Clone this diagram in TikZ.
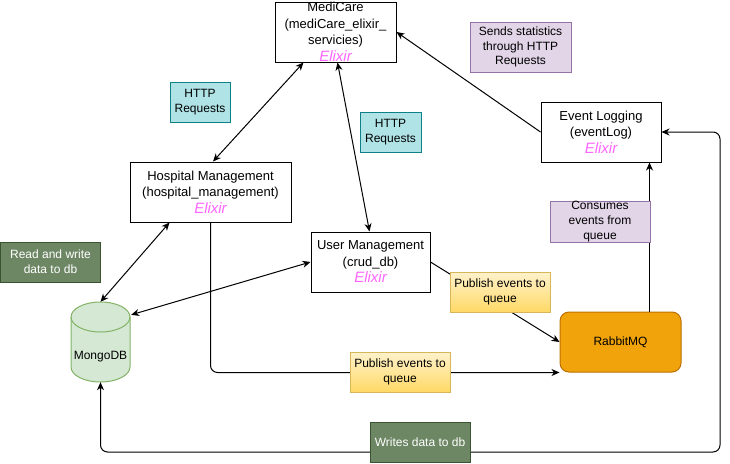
\documentclass[tikz,border=0pt]{standalone}
\usepackage{fontspec}
\setmainfont{Liberation Sans}
\usetikzlibrary{arrows.meta,calc}
\definecolor{elixirpink}{HTML}{FF66FF}
\definecolor{cyanF}{HTML}{B0E3E6}
\definecolor{cyanS}{HTML}{0E8088}
\definecolor{purpF}{HTML}{E1D5E7}
\definecolor{purpS}{HTML}{9673A6}
\definecolor{yelTop}{HTML}{FFF2CC}
\definecolor{yelBot}{HTML}{FFD966}
\definecolor{yelS}{HTML}{D6B656}
\definecolor{grnF}{HTML}{6D8764}
\definecolor{grnS}{HTML}{3A5431}
\definecolor{orgF}{HTML}{F0A30A}
\definecolor{orgS}{HTML}{BD7000}
\definecolor{mongoF}{HTML}{D5E8D4}
\definecolor{mongoS}{HTML}{82B366}
\newcommand{\elx}{{\fontsize{15}{16.5}\selectfont\color{elixirpink}\itshape Elixir}}
\tikzset{
  svc/.style={draw=black, line width=1pt, fill=white, align=center, inner sep=0pt,
    minimum height=60pt, font=\fontsize{13}{16.5}\selectfont},
  lab/.style={line width=1pt, align=center, inner sep=0pt, minimum width=100pt,
    minimum height=40pt, font=\fontsize{12}{15}\selectfont},
  cyanlab/.style={lab, draw=cyanS, fill=cyanF, minimum width=60pt},
  purplab/.style={lab, draw=purpS, fill=purpF},
  yellab/.style={lab, draw=yelS, top color=yelTop, bottom color=yelBot},
  grnlab/.style={lab, draw=grnS, fill=grnF, text=white},
  conn/.style={line width=1pt, draw=black},
  >={Stealth[length=8pt,width=7pt,inset=2.5pt]}
}
\begin{document}
\begin{tikzpicture}[x=1pt,y=-1pt]
\useasboundingbox (0,0) rectangle (730,463);
\fill[white] (0,0) rectangle (730,463);

% MongoDB cylinder
\fill[mongoF] (71,317) -- (71,367) arc[start angle=180,end angle=360,x radius=29.5pt,y radius=15pt]
  -- (130,317) arc[start angle=0,end angle=180,x radius=29.5pt,y radius=15pt] -- cycle;
\draw[mongoS,line width=1pt] (71,317) -- (71,367) arc[start angle=180,end angle=360,x radius=29.5pt,y radius=15pt]
  -- (130,317) arc[start angle=0,end angle=180,x radius=29.5pt,y radius=15pt] -- cycle;
\draw[mongoS,line width=1pt] (71,317) arc[start angle=180,end angle=360,x radius=29.5pt,y radius=15pt];
\node[inner sep=0pt, minimum width=59pt, minimum height=80pt, font=\fontsize{12}{15}\selectfont]
  (mongo) at (100.5,342) {\raisebox{-17pt}[0pt][0pt]{MongoDB}};

% service boxes
\node[svc, minimum width=121pt] (medi) at (335.5,32) {MediCare\\(mediCare\_elixir\_\\servicies)\\\elx};
\node[svc, minimum width=161pt] (hosp) at (210.5,192) {Hospital Management\\(hospital\_management)\\\elx};
\node[svc, minimum width=119pt] (user) at (370.5,262) {User Management\\(crud\_db)\\\elx};
\node[svc, minimum width=120pt] (event) at (601,132) {Event Logging\\(eventLog)\\\elx};
\node[draw=orgS, fill=orgF, line width=1pt, rounded corners=9pt, inner sep=0pt,
  minimum width=121pt, minimum height=60pt, font=\fontsize{12}{15}\selectfont] (rabbit) at (620.5,342) {RabbitMQ};

% loop coordinates
\coordinate (loopBL) at (100.5,452);
\coordinate (loopBR) at (720,452);
\coordinate (loopTR) at (720,132);

% connectors
\draw[conn,<->] ($(hosp.north)+(2.5,0)$) -- ($(medi.south west)+(29,0)$);
\draw[conn,<->] ($(medi.south west)+(63,0)$) -- ($(user.north west)+(59,0)$);
\draw[conn,->] (event.west) -- (medi.east);
\draw[conn,<->] ($(hosp.south west)+(40,0)$) -- (mongo.north);
\draw[conn,<->] (user.west) -- ($(mongo.north east)+(1,13)$);
\draw[conn,->] (user.east) -- (rabbit.west);
\draw[conn,->,rounded corners=7pt] (hosp.south) |- (rabbit.south west);
\draw[conn,->] ($(rabbit.north west)+(90,0)$) -- ($(event.south west)+(109,0)$);
\draw[conn,<->,rounded corners=7pt] (mongo.south) -- (loopBL) -- (loopBR) -- (loopTR) -- (event.east);

% labels
\node[cyanlab] (httpL) at (200,102) {HTTP\\Requests};
\node[cyanlab, minimum width=61pt] (httpM) at (390.5,132) {HTTP\\Requests};
\node[purplab, minimum width=101pt, minimum height=50pt, font=\fontsize{12}{14.5}\selectfont] (stats) at (520.5,47) {Sends statistics\\through HTTP\\Requests};
\node[purplab] (consume) at (600,222) {Consumes\\events from\\queue};
\node[yellab] (pub1) at (500,292) {Publish events to\\queue};
\node[yellab] (pub2) at (400,372) {Publish events to\\queue};
\node[grnlab, minimum width=100pt] (rw) at (50.5,262) {Read and write\\data to db};
\node[grnlab] (writes) at (420,442) {Writes data to db};
\end{tikzpicture}
\end{document}
